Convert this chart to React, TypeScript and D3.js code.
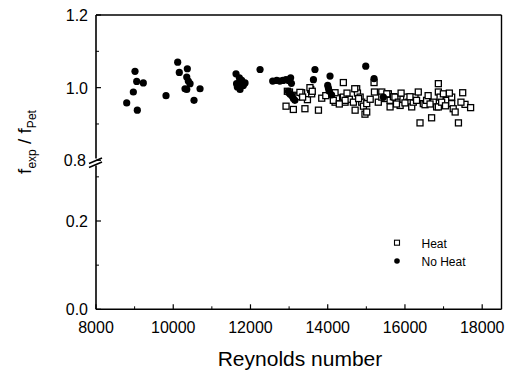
import React from "react";
import * as d3 from "d3";

const heatRe = [12921, 13010, 13110, 13180, 13230, 13325, 13410, 13475, 13560, 13585, 13760, 13845, 14145, 14190, 14230, 14405, 14405, 14450, 14500, 14560, 14665, 14710, 14750, 14770, 14840, 14880, 14925, 14965, 15010, 15200, 15210, 15310, 15400, 15480, 15570, 15615, 15615, 15700, 15740, 15830, 15875, 15950, 16045, 16100, 16175, 16215, 16260, 16345, 16390, 16475, 16520, 16560, 16690, 16735, 16820, 16865, 16865, 16865, 16910, 16995, 17080, 17210, 17210, 17250, 17300, 17385, 17495, 17555, 17700,
  12955, 13280, 13350, 13540, 13600, 14190, 14145, 14450, 14700, 14800, 15010, 15400, 15530, 15900, 15780, 16000, 16130, 16300, 16600, 16650, 16950, 17050, 17150, 17450, 15100, 14300, 13950];
const heatVal = [0.949, 0.988, 0.940, 0.979, 0.975, 0.986, 0.942, 0.967, 0.995, 0.983, 0.938, 0.971, 0.983, 0.960, 0.972, 1.014, 0.974, 0.960, 0.985, 0.968, 0.960, 0.938, 0.997, 0.985, 0.974, 0.960, 0.949, 0.927, 0.956, 1.014, 0.988, 0.960, 0.988, 0.970, 0.983, 0.965, 0.947, 0.975, 0.974, 0.960, 0.951, 0.968, 0.974, 0.960, 0.947, 0.960, 0.974, 0.988, 0.903, 0.956, 0.953, 0.965, 0.917, 0.960, 0.947, 1.011, 0.988, 0.947, 0.974, 0.983, 0.965, 0.974, 0.956, 0.942, 0.933, 0.903, 0.986, 0.954, 0.945,
  0.990, 0.987, 0.974, 1.000, 0.990, 0.986, 0.965, 0.965, 0.997, 0.970, 0.933, 0.974, 0.983, 0.985, 0.955, 0.958, 0.975, 0.965, 0.978, 0.955, 0.960, 0.950, 0.985, 0.960, 0.968, 0.955, 0.978];

const noHeatRe = [8795, 8967, 9010, 9054, 9070, 9225, 9813, 10115, 10157, 10305, 10350, 10350, 10365, 10390, 10435, 10538, 10694, 11626, 11640, 11660, 11712, 11730, 11773, 11815, 11859, 12248, 12575, 12680, 12760, 12840, 12920, 12990, 13040, 13060, 12980, 13025, 13070, 13110, 13150, 13630, 13670, 14000, 14020, 14040, 14060, 14100, 14985, 15200, 15441];
const noHeatVal = [0.958, 0.988, 1.045, 1.017, 0.938, 1.013, 0.978, 1.070, 1.042, 0.997, 1.029, 0.995, 1.052, 1.018, 1.011, 0.965, 0.997, 1.038, 1.011, 1.002, 1.027, 0.995, 1.020, 1.006, 1.013, 1.050, 1.018, 1.020, 1.018, 1.020, 1.022, 1.020, 1.027, 1.012, 0.990, 0.982, 0.978, 0.970, 0.965, 1.022, 1.050, 1.006, 0.998, 0.990, 1.032, 0.980, 1.059, 1.025, 0.974];

const xTicks = [8000, 10000, 12000, 14000, 16000, 18000];
const xMinor = [9000, 11000, 13000, 15000, 17000];
const yUpperTicks = [0.8, 1.0, 1.2];
const yUpperMinor = [0.9, 1.1];
const yLowerTicks = [0.0, 0.2];
const yLowerMinor = [0.1, 0.3];
const legendLabels = ["Heat", "No Heat"];

const FONT = "'Liberation Sans', Arial, Helvetica, sans-serif";

export default function App() {
  const left = 96, right = 501.5, top = 15, bottom = 309.3;
  const x = d3.scaleLinear().domain([8000, 18500]).range([left, right]);
  const yU = d3.scaleLinear().domain([0.8, 1.2]).range([160.3, top]);
  const yL = d3.scaleLinear().domain([0, 0.2]).range([bottom, 221]);
  const fmt = d3.format(".1f");
  const sq = 6;

  return (
    <svg width={513} height={376} style={{ position: "absolute", left: 0, top: 0, background: "#fff" }} fontFamily={FONT}>
      <rect width={513} height={376} fill="#fff" />
      {/* frame */}
      <line x1={left} x2={right} y1={top} y2={top} stroke="#000" strokeWidth={1.4} />
      <line x1={right} x2={right} y1={top} y2={bottom} stroke="#000" strokeWidth={1.4} />
      <line x1={left} x2={right} y1={bottom} y2={bottom} stroke="#000" strokeWidth={1.6} />
      <line x1={left} x2={left} y1={top} y2={158.5} stroke="#000" strokeWidth={1.6} />
      <line x1={left} x2={left} y1={165.5} y2={bottom} stroke="#000" strokeWidth={1.6} />
      {/* break marks */}
      <line x1={89} y1={163.5} x2={102} y2={158} stroke="#000" strokeWidth={1.5} />
      <line x1={89} y1={167.5} x2={102} y2={162} stroke="#000" strokeWidth={1.5} />

      {/* x ticks */}
      {xTicks.map((t) => (
        <g key={"xt" + t}>
          <line x1={x(t)} x2={x(t)} y1={bottom} y2={bottom - 5} stroke="#000" strokeWidth={1.2} />
          <text x={x(t)} y={333} fontSize={16} textAnchor="middle">{t}</text>
        </g>
      ))}
      {xMinor.map((t) => (
        <line key={"xm" + t} x1={x(t)} x2={x(t)} y1={bottom} y2={bottom - 3} stroke="#000" strokeWidth={1} />
      ))}
      {/* y ticks upper */}
      {yUpperTicks.map((t) => (
        <g key={"yu" + t}>
          <line x1={left} x2={left + 5} y1={yU(t)} y2={yU(t)} stroke="#000" strokeWidth={1.2} />
          <text x={t === 0.8 ? 86 : 88} y={yU(t) + 6} fontSize={16} textAnchor="end">{fmt(t)}</text>
        </g>
      ))}
      {yUpperMinor.map((t) => (
        <line key={"yum" + t} x1={left} x2={left + 3} y1={yU(t)} y2={yU(t)} stroke="#000" strokeWidth={1} />
      ))}
      {yLowerTicks.map((t) => (
        <g key={"yl" + t}>
          <line x1={left} x2={left + 5} y1={yL(t)} y2={yL(t)} stroke="#000" strokeWidth={1.2} />
          <text x={88} y={yL(t) + 6} fontSize={16} textAnchor="end">{fmt(t)}</text>
        </g>
      ))}
      {yLowerMinor.map((t) => (
        <line key={"ylm" + t} x1={left} x2={left + 3} y1={yL(t)} y2={yL(t)} stroke="#000" strokeWidth={1} />
      ))}

      {/* data */}
      {heatRe.map((r, i) => (
        <rect key={"h" + i} x={x(r) - sq / 2} y={yU(heatVal[i]) - sq / 2} width={sq} height={sq} fill="#fff" stroke="#000" strokeWidth={1.3} />
      ))}
      {noHeatRe.map((r, i) => (
        <circle key={"n" + i} cx={x(r)} cy={yU(noHeatVal[i])} r={3.6} fill="#000" />
      ))}

      {/* legend */}
      <rect x={397 - 2.5} y={242.7 - 2.5} width={5} height={5} fill="#fff" stroke="#000" strokeWidth={1.1} />
      <text x={421.5} y={248} fontSize={12}>{legendLabels[0]}</text>
      <circle cx={397} cy={261} r={2.8} fill="#000" />
      <text x={421.5} y={265.7} fontSize={12}>{legendLabels[1]}</text>

      {/* axis titles */}
      <text x={300} y={366} fontSize={21} textAnchor="middle">Reynolds number</text>
      <text transform="translate(31,142) rotate(-90)" textAnchor="middle" fontSize={19}>
        <tspan>f</tspan>
        <tspan fontSize={12} dy={5}>exp</tspan>
        <tspan dy={-5}>{" / f"}</tspan>
        <tspan fontSize={12} dy={5}>Pet</tspan>
      </text>
    </svg>
  );
}
